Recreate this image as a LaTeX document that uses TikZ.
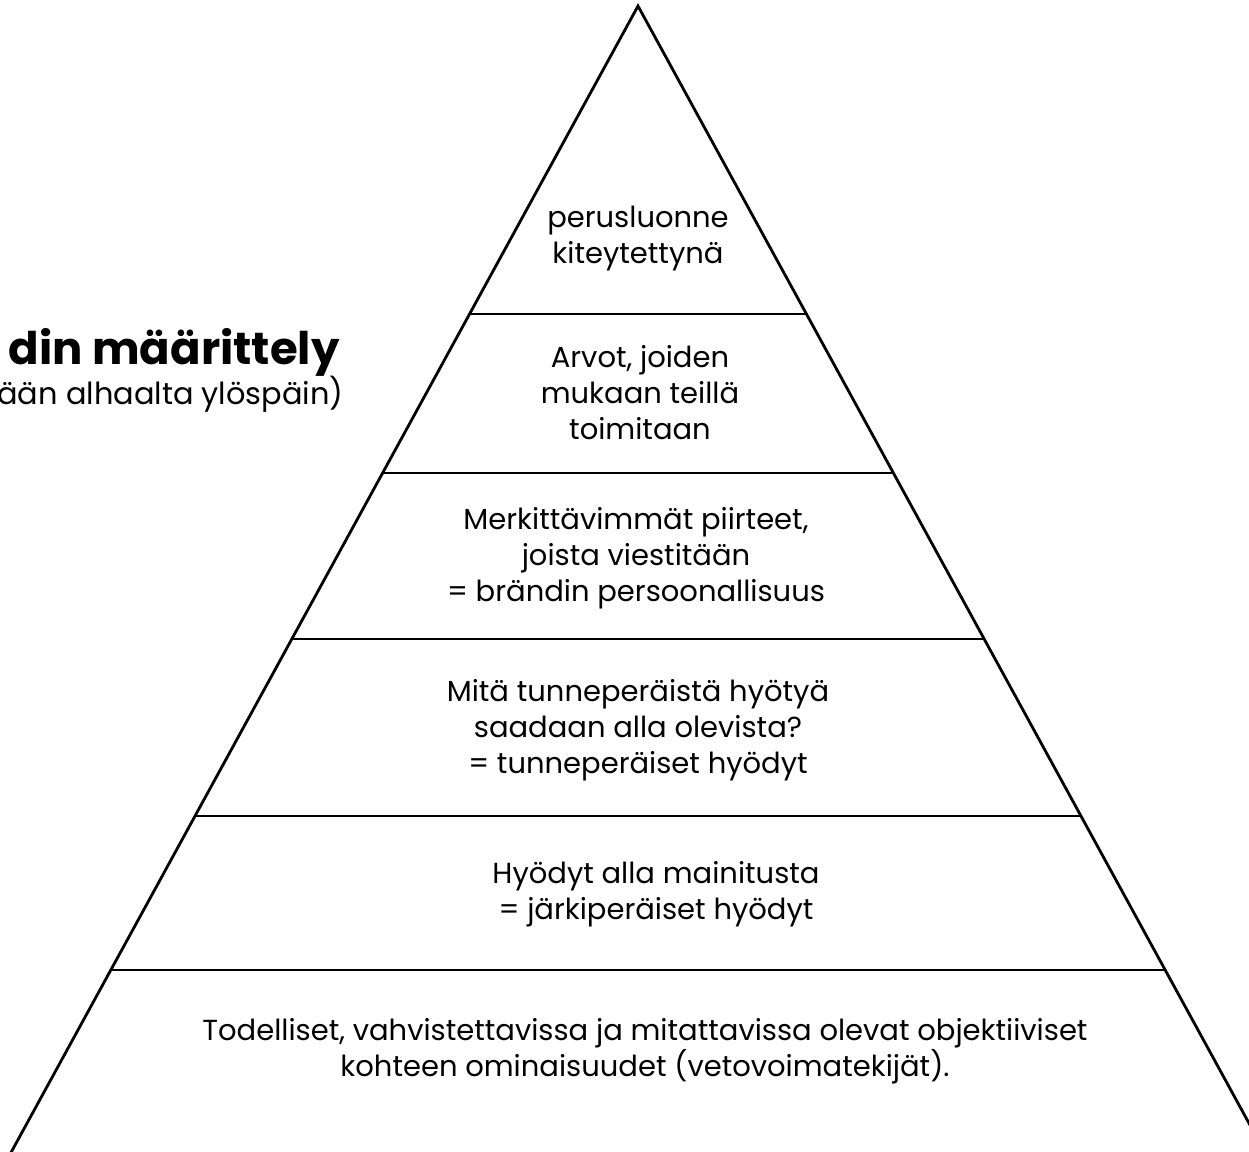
\documentclass[tikz,border=0pt]{standalone}
\usepackage{fontspec}
\setmainfont{Poppins}
\usetikzlibrary{positioning}

\begin{document}
\begin{tikzpicture}[x=0.5pt,y=-0.5pt,
    layertext/.style={align=center, inner sep=0pt, font=\fontsize{14.5}{18}\selectfont},
    edge/.style={line width=1.4pt, line join=miter}]
    \useasboundingbox (0,0) rectangle (1249,1152);
    \clip (0,0) rectangle (1249,1152);

    % Draw the pyramid outline
    \coordinate (apex) at (638,6);
    \coordinate (baseL) at (8,1158);
    \coordinate (baseR) at (1268,1158);
    \draw[edge] (baseL) -- (apex) -- (baseR);

    % Draw the borders between the layers
    \foreach \y in {314,473,639,816,970} {
        \pgfmathsetmacro{\dx}{0.5469*(\y-6)}
        \draw[edge] (638-\dx,\y) -- (638+\dx,\y);
    }

    % Texts of the layers, top to bottom
    \node[layertext] (core) at (638,239) {perusluonne\\kiteytettynä};
    \node[layertext] (values) at (640,393) {Arvot, joiden\\mukaan teillä\\toimitaan};
    \node[layertext] (traits) at (636,558) {Merkittävimmät piirteet,\\joista viestitään\\= brändin persoonallisuus};
    \node[layertext] (emotional) at (638,730) {Mitä tunneperäistä hyötyä\\saadaan alla olevista?\\= tunneperäiset hyödyt};
    \node[layertext] (rational) at (656,894) {Hyödyt alla mainitusta\\= järkiperäiset hyödyt};
    \node[layertext] (features) at (645,1051) {Todelliset, vahvistettavissa ja mitattavissa olevat objektiiviset\\kohteen ominaisuudet (vetovoimatekijät).};

    % Heading at the left, cut by the page edge
    \node[anchor=base east, inner sep=0pt, font=\fontsize{22.5}{26}\selectfont\bfseries] (title) at (340,364) {din määrittely};
    \node[anchor=base east, inner sep=0pt, font=\fontsize{15.2}{18}\selectfont] (subtitle) at (344,404) {ään alhaalta ylöspäin)};
\end{tikzpicture}
\end{document}
